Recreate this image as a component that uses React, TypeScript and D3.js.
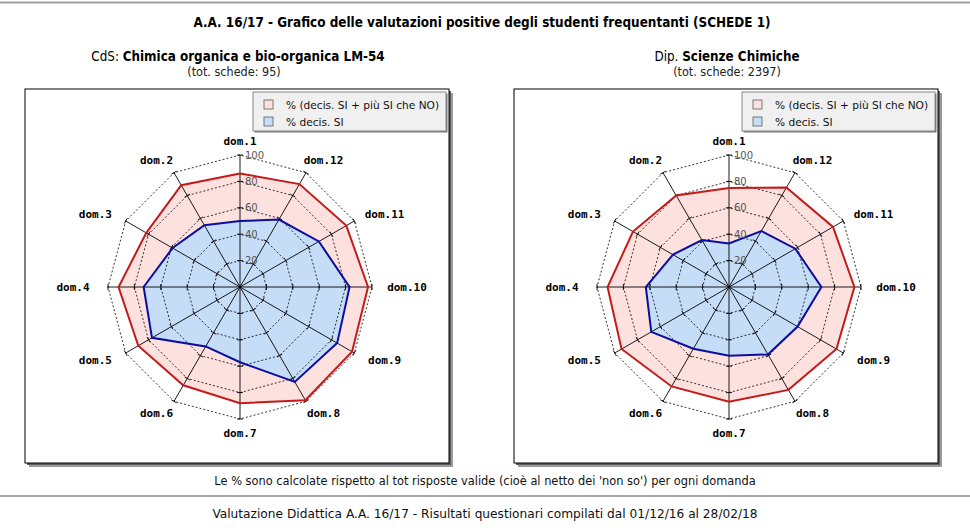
import React from 'react';
import * as d3 from 'd3';

const axisLabels = ['dom.1', 'dom.2', 'dom.3', 'dom.4', 'dom.5', 'dom.6', 'dom.7', 'dom.8', 'dom.9', 'dom.10', 'dom.11', 'dom.12'];
const tickValues = [20, 40, 60, 80, 100];
const legendLabels = ['% (decis. SI + più SI che NO)', '% decis. SI'];

const cdsPositive = [86, 89, 82, 92, 89, 86, 88, 99, 98, 97, 93, 90];
const cdsDecisSi = [50, 54, 59, 73, 77, 52, 57, 83, 85, 83, 69, 59];
const dipPositive = [75, 80, 84, 92, 94, 87, 87, 90, 94, 95, 91, 87];
const dipDecisSi = [33, 41, 49, 63, 68, 54, 52, 59, 60, 70, 58, 49];

const W = 970;
const H = 528;
const R = 132;
const RED = '#c41a1a';
const PINK = '#fde1de';
const BLUE = '#0c0c9e';
const LIGHTBLUE = '#c6ddf7';
const MONO = '"DejaVu Sans Mono", monospace';
const SANS = '"DejaVu Sans", sans-serif';
const COND = '"DejaVu Sans Condensed", "DejaVu Sans", sans-serif';

const rScale = d3.scaleLinear().domain([0, 100]).range([0, R]);
const angleOf = (i: number) => (-i * 2 * Math.PI) / axisLabels.length;

const radial = d3
  .lineRadial<number>()
  .angle((_, i) => angleOf(i))
  .radius((d) => rScale(d))
  .curve(d3.curveLinearClosed);

function Radar({ cx, cy, positive, decis }: { cx: number; cy: number; positive: number[]; decis: number[] }) {
  const ring = (v: number) => radial(axisLabels.map(() => v)) as string;
  return (
    <g transform={`translate(${cx},${cy})`}>
      <path d={radial(positive) as string} fill={PINK} stroke="none" />
      <path d={radial(decis) as string} fill={LIGHTBLUE} stroke="none" />
      {tickValues.map((v) => (
        <path key={v} d={ring(v)} fill="none" stroke="#000" strokeWidth={0.8} strokeDasharray="2,2" />
      ))}
      {axisLabels.map((lab, i) => {
        const a = angleOf(i);
        const dx = Math.sin(a);
        const dy = -Math.cos(a);
        const px = -dy;
        const py = dx;
        return (
          <g key={lab}>
            <line x1={0} y1={0} x2={dx * R} y2={dy * R} stroke="#000" strokeWidth={0.9} />
            {tickValues.map((v) => (
              <line
                key={v}
                x1={dx * rScale(v) - px * 3}
                y1={dy * rScale(v) - py * 3}
                x2={dx * rScale(v) + px * 3}
                y2={dy * rScale(v) + py * 3}
                stroke="#000"
                strokeWidth={0.9}
              />
            ))}
            <text
              x={dx * (R + 35)}
              y={dy * (R + 14)}
              textAnchor="middle"
              dominantBaseline="central"
              fontFamily={MONO}
              fontWeight="bold"
              fontSize={11}
              fill="#000"
            >
              {lab}
            </text>
          </g>
        );
      })}
      <path d={radial(positive) as string} fill="none" stroke={RED} strokeWidth={2} strokeLinejoin="miter" />
      <path d={radial(decis) as string} fill="none" stroke={BLUE} strokeWidth={2} />
      {tickValues.map((v) => (
        <text key={v} x={5} y={-rScale(v)} dominantBaseline="central" fontFamily={SANS} fontSize={10} fill="#555">
          {v}
        </text>
      ))}
    </g>
  );
}

function Panel({ x, y, w, h, positive, decis }: { x: number; y: number; w: number; h: number; positive: number[]; decis: number[] }) {
  const lx = x + w - 196;
  const ly = y + 3;
  return (
    <g>
      <rect x={x + 4} y={y + 4} width={w} height={h} fill="#9a9a9a" />
      <rect x={x + 2} y={y + 2} width={w} height={h} fill="#5e5e5e" />
      <rect x={x} y={y} width={w} height={h} fill="#fff" stroke="#000" strokeWidth={1} />
      <Radar cx={x + w / 2 + 3} cy={y + 198} positive={positive} decis={decis} />
      <rect x={lx + 1.5} y={ly + 1.5} width={193} height={39} fill="#777" />
      <rect x={lx} y={ly} width={193} height={39} fill="#f0f0f0" stroke="#888" strokeWidth={1} />
      {legendLabels.map((lab, i) => (
        <g key={lab}>
          <rect x={lx + 11} y={ly + 8 + i * 17} width={9} height={9} fill={i === 0 ? PINK : LIGHTBLUE} stroke="#777" strokeWidth={1} />
          <text x={lx + 33} y={ly + 13 + i * 17} dominantBaseline="central" fontFamily={SANS} fontSize={10.6} fill="#111">
            {lab}
          </text>
        </g>
      ))}
    </g>
  );
}

export default function App() {
  return (
    <svg width={W} height={H} style={{ position: 'fixed', left: 0, top: 0, background: '#fff' }}>
      <rect width={W} height={H} fill="#fff" />
      <line x1={0} x2={W} y1={2.5} y2={2.5} stroke="#a0a0a0" strokeWidth={2} />
      <text x={482} y={22} textAnchor="middle" dominantBaseline="central" fontFamily={COND} fontWeight="bold" fontSize={13.4} fill="#000">
        A.A. 16/17 - Grafico delle valutazioni positive degli studenti frequentanti (SCHEDE 1)
      </text>
      <text x={238} y={56} textAnchor="middle" dominantBaseline="central" fontFamily={COND} fontSize={13.3} fill="#000">
        <tspan>CdS: </tspan>
        <tspan fontWeight="bold">Chimica organica e bio-organica LM-54</tspan>
      </text>
      <text x={234} y={71} textAnchor="middle" dominantBaseline="central" fontFamily={COND} fontSize={12.5} fill="#222">
        (tot. schede: 95)
      </text>
      <text x={727} y={56} textAnchor="middle" dominantBaseline="central" fontFamily={COND} fontSize={13.3} fill="#000">
        <tspan>Dip. </tspan>
        <tspan fontWeight="bold">Scienze Chimiche</tspan>
      </text>
      <text x={727} y={71} textAnchor="middle" dominantBaseline="central" fontFamily={COND} fontSize={12.5} fill="#222">
        (tot. schede: 2397)
      </text>
      <Panel x={25} y={89} w={424} h={374} positive={cdsPositive} decis={cdsDecisSi} />
      <Panel x={514} y={89} w={424} h={374} positive={dipPositive} decis={dipDecisSi} />
      <text x={485} y={481} textAnchor="middle" dominantBaseline="central" fontFamily={SANS} fontSize={11.4} fill="#111">
        Le % sono calcolate rispetto al tot risposte valide (cioè al netto dei 'non so') per ogni domanda
      </text>
      <line x1={0} x2={W} y1={496} y2={496} stroke="#a8a8a8" strokeWidth={2} />
      <text x={485} y={514} textAnchor="middle" dominantBaseline="central" fontFamily={SANS} fontSize={12.2} fill="#111">
        Valutazione Didattica A.A. 16/17 - Risultati questionari compilati dal 01/12/16 al 28/02/18
      </text>
    </svg>
  );
}
